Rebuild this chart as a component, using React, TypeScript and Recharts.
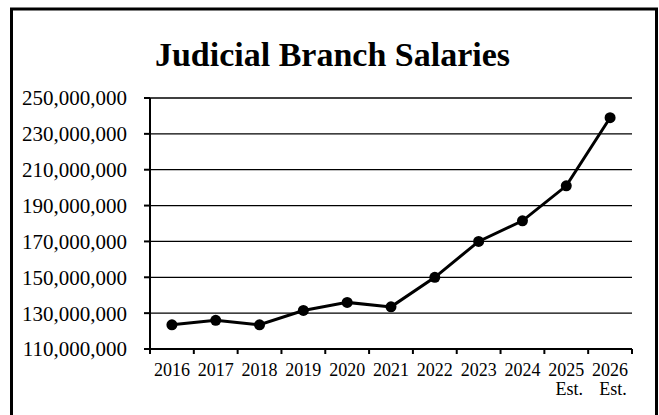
import { LineChart, Line, XAxis, YAxis, CartesianGrid } from "recharts";

const YEARS = ["2016", "2017", "2018", "2019", "2020", "2021", "2022", "2023", "2024", "2025", "2026"];
const NOTES = ["", "", "", "", "", "", "", "", "", "Est.", "Est."];
const SALARIES = [
  123500000, 126000000, 123500000, 131500000, 136000000, 133500000, 150000000, 170000000, 181500000,
  201000000, 239000000,
];
const Y_TICKS = [110000000, 130000000, 150000000, 170000000, 190000000, 210000000, 230000000, 250000000];

const data = YEARS.map((year, i) => ({ year, salaries: SALARIES[i] }));

const FONT = '"Liberation Serif", "Times New Roman", serif';

function YearTick(props: any) {
  const { x, y, payload, index } = props;
  const half = payload?.offset ?? 22;
  const isLast = index === YEARS.length - 1;
  const note = NOTES[index];
  return (
    <g>
      <line x1={x - half} x2={x - half} y1={y} y2={y + 5} stroke="#000" strokeWidth={2} />
      {isLast && <line x1={x + half} x2={x + half} y1={y} y2={y + 5} stroke="#000" strokeWidth={2} />}
      <text x={x} y={y + 27} textAnchor="middle" fontSize={18} fontFamily={FONT} fill="#000">
        {payload.value}
      </text>
      {note && (
        <text x={x + 3} y={y + 46} textAnchor="middle" fontSize={18} fontFamily={FONT} fill="#000">
          {note}
        </text>
      )}
    </g>
  );
}

export default function App() {
  return (
    <div style={{ position: "fixed", left: 0, top: 0, width: 659, height: 415, overflow: "hidden", background: "#fff" }}>
      <div style={{ position: "absolute", left: 0, top: 0 }}>
        <LineChart width={659} height={415} data={data} margin={{ top: 98, right: 27, left: 0, bottom: 6 }}>
          <CartesianGrid horizontal vertical={false} stroke="#000" strokeWidth={1.3} />
          <XAxis
            dataKey="year"
            scale="band"
            interval={0}
            height={60}
            tickSize={0}
            tickMargin={0}
            tickLine={false}
            axisLine={{ stroke: "#000", strokeWidth: 2 }}
            tick={<YearTick />}
          />
          <YAxis
            width={150}
            domain={[110000000, 250000000]}
            ticks={Y_TICKS}
            interval={0}
            tickSize={6}
            tickMargin={17}
            tickLine={{ stroke: "#000", strokeWidth: 2 }}
            axisLine={{ stroke: "#000", strokeWidth: 2 }}
            tick={{ fontSize: 21, fontFamily: FONT, fill: "#000" }}
            tickFormatter={(v: number) => v.toLocaleString("en-US")}
          />
          <Line
            dataKey="salaries"
            stroke="#000"
            strokeWidth={3}
            dot={{ r: 5.5, fill: "#000", stroke: "#000", strokeWidth: 0 }}
            isAnimationActive={false}
          />
        </LineChart>
      </div>
      <svg width={659} height={415} style={{ position: "absolute", left: 0, top: 0, pointerEvents: "none" }}>
        <rect x={11.5} y={9} width={645} height={420} fill="none" stroke="#000" strokeWidth={3} />
        <text x={332.5} y={66} textAnchor="middle" fontSize={34} fontWeight="bold" fontFamily={FONT} fill="#000">
          Judicial Branch Salaries
        </text>
      </svg>
    </div>
  );
}
